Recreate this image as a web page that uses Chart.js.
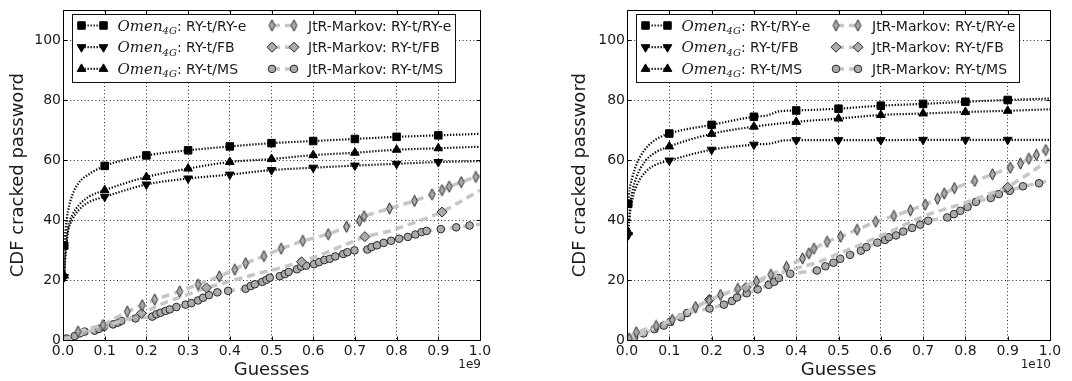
<!DOCTYPE html>
<html>
<head>
<meta charset="utf-8">
<script src="https://cdn.jsdelivr.net/npm/chart.js@4.4.0/dist/chart.umd.min.js"></script>
<style>
html, body { margin: 0; padding: 0; background: #fff; }
#wrap { position: relative; width: 1072px; height: 381px; }
#wrap canvas { position: absolute; top: 0; }
</style>
</head>
<body>
<div id="wrap">
    <canvas id="left" width="536" height="381" style="left:0"></canvas>
    <canvas id="right" width="536" height="381" style="left:536px"></canvas>
</div>
<script>
// axis ticks (x in units of the offset shown under the axis)
const X_TICKS = [0, 0.1, 0.2, 0.3, 0.4, 0.5, 0.6, 0.7, 0.8, 0.9, 1.0];
const Y_TICKS = [0, 20, 40, 60, 80, 100];
const OMEN_MARKS = [0.003, 0.1, 0.2, 0.3, 0.4, 0.5, 0.6, 0.7, 0.8, 0.9];
const LABELS = ["RY-t/RY-e", "RY-t/FB", "RY-t/MS"];

// left panel, guesses x 1e9
const L_OMEN_RYE = [[0.003, 31.5], [0.006, 36.5], [0.012, 43], [0.023, 48.6], [0.038, 52.5], [0.062, 55.3], [0.1, 58.1],
    [0.15, 60.2], [0.2, 61.6], [0.3, 63.3], [0.4, 64.6], [0.5, 65.7], [0.6, 66.4], [0.7, 67.1], [0.8, 67.8], [0.9, 68.3], [1.0, 68.8]];
const L_OMEN_FB = [[0.003, 21], [0.005, 26.5], [0.008, 31.5], [0.012, 36], [0.023, 40.3], [0.038, 43.4], [0.062, 46], [0.1, 47.8],
    [0.2, 51.9], [0.3, 53.9], [0.4, 55.2], [0.5, 56.7], [0.6, 57.5], [0.7, 58.2], [0.8, 58.8], [0.9, 59.4], [1.0, 59.7]];
const L_OMEN_MS = [[0.003, 21.5], [0.005, 28], [0.008, 33], [0.012, 37.5], [0.023, 41.8], [0.038, 45], [0.062, 47.8], [0.1, 50],
    [0.2, 54.4], [0.3, 57.2], [0.4, 59.4], [0.5, 60.4], [0.6, 61.7], [0.7, 62.5], [0.8, 63.5], [0.9, 64], [1.0, 64.5]];
const L_JTR_RYE = [[0.036, 2.8], [0.096, 5], [0.154, 9.5], [0.19, 11.6], [0.22, 13.5], [0.28, 16.2], [0.324, 18.5], [0.375, 21.2],
    [0.412, 23.5], [0.438, 25.6], [0.482, 28], [0.523, 30.5], [0.575, 33.1], [0.636, 35.3], [0.68, 37.8], [0.711, 39.8], [0.722, 41.3],
    [0.783, 43.9], [0.843, 46.4], [0.885, 48.6], [0.909, 50], [0.926, 51.2], [0.955, 52.7], [0.99, 54.4], [1.0, 54.8]];
const L_JTR_FB = [[0, 0], [0.05, 2.3], [0.1, 4.5], [0.15, 6.8], [0.188, 8.9], [0.25, 12.8], [0.3, 15.2], [0.344, 17.4], [0.4, 19.6],
    [0.47, 22.3], [0.52, 24], [0.572, 26.1], [0.62, 28.5], [0.67, 31.5], [0.724, 34.5], [0.78, 36.2], [0.85, 39.5], [0.909, 42.7],
    [0.95, 46], [1.0, 50]];
const L_FB_MARKS = [0.188, 0.344, 0.572, 0.724, 0.909];
const L_JTR_MS = [[0.008, 0.5], [0.028, 1.3], [0.04, 2.2], [0.052, 2.8], [0.076, 3.1], [0.086, 3.7], [0.098, 4.4], [0.12, 5.2],
    [0.132, 5.8], [0.14, 6.4], [0.174, 7.2], [0.214, 7.8], [0.224, 8.6], [0.234, 9.1], [0.246, 9.7], [0.256, 10.2], [0.272, 11],
    [0.294, 11.8], [0.308, 12.3], [0.324, 13.2], [0.336, 14.1], [0.35, 15], [0.37, 15.9], [0.396, 16.4], [0.438, 17.1], [0.45, 18],
    [0.46, 18.6], [0.478, 19.4], [0.488, 20.1], [0.496, 20.8], [0.52, 21.3], [0.532, 22], [0.541, 22.7], [0.561, 23.6], [0.571, 24.5],
    [0.583, 24.8], [0.602, 25.3], [0.614, 26], [0.627, 26.7], [0.64, 27.1], [0.653, 27.9], [0.672, 28.7], [0.682, 29.3], [0.699, 29.9],
    [0.73, 30.2], [0.74, 31], [0.753, 31.6], [0.769, 32.4], [0.787, 33.1], [0.806, 33.8], [0.827, 34.4], [0.845, 35.2], [0.86, 36],
    [0.872, 36.4], [0.906, 37], [0.943, 37.6], [0.975, 38.2], [1.0, 38.6]];

// right panel, guesses x 1e10
const R_OMEN_RYE = [[0.003, 45.5], [0.006, 50], [0.012, 54], [0.023, 58.8], [0.042, 63.5], [0.065, 66.6], [0.1, 68.9], [0.2, 71.8],
    [0.3, 74.5], [0.33, 74.9], [0.36, 76.3], [0.4, 76.6], [0.5, 77.2], [0.6, 78.2], [0.7, 78.8], [0.8, 79.5], [0.9, 80.1], [1.0, 80.6]];
const R_OMEN_FB = [[0.003, 35], [0.006, 41], [0.012, 46.5], [0.023, 51.5], [0.042, 55.8], [0.065, 58.3], [0.1, 59.9], [0.2, 63.5],
    [0.3, 65.2], [0.34, 65.6], [0.37, 66.6], [0.4, 66.7], [0.5, 66.7], [0.6, 66.7], [0.7, 66.8], [0.8, 66.8], [0.9, 66.8], [1.0, 66.8]];
const R_OMEN_MS = [[0.003, 36], [0.006, 42.5], [0.012, 49], [0.023, 54.5], [0.042, 59.5], [0.065, 62.4], [0.1, 64.6], [0.2, 68.8],
    [0.3, 71.2], [0.4, 72.8], [0.5, 73.9], [0.6, 75.1], [0.7, 75.6], [0.8, 76.1], [0.9, 76.5], [1.0, 77]];
const R_JTR_RYE = [[0.005, 0.5], [0.022, 2.6], [0.069, 4.7], [0.107, 6.7], [0.162, 11], [0.194, 13.2], [0.221, 15], [0.262, 17.1],
    [0.306, 19.6], [0.34, 21.8], [0.377, 24.4], [0.415, 27.2], [0.43, 28.9], [0.442, 30.5], [0.473, 32.8], [0.505, 34.5], [0.544, 36.8],
    [0.588, 39.5], [0.631, 41.4], [0.67, 43.3], [0.705, 45.2], [0.734, 47.1], [0.75, 48.9], [0.774, 50.7], [0.822, 53.1], [0.864, 55.3],
    [0.906, 57.5], [0.93, 58.9], [0.95, 60.5], [0.968, 61.8], [0.99, 63.4], [1.0, 64]];
const R_JTR_FB = [[0, 0], [0.05, 3], [0.1, 6.3], [0.15, 9.8], [0.195, 13.5], [0.24, 15.8], [0.281, 17.5], [0.33, 20.5], [0.38, 23.2],
    [0.45, 25.8], [0.5, 28.8], [0.56, 32.3], [0.62, 36], [0.68, 40], [0.72, 42.3], [0.8, 45.8], [0.9, 51], [0.95, 55.5], [1.0, 60.3]];
const R_FB_MARKS = [0.195, 0.281, 0.9];
const R_JTR_MS = [[0.01, 0], [0.017, 0.9], [0.039, 2.2], [0.065, 3.6], [0.087, 4.8], [0.102, 6], [0.128, 7.6], [0.142, 9], [0.195, 10.5],
    [0.229, 11.8], [0.248, 13], [0.26, 14.2], [0.283, 15.6], [0.309, 16.9], [0.335, 18.4], [0.348, 19.4], [0.359, 20.7], [0.386, 22.1],
    [0.449, 23.2], [0.469, 24.6], [0.488, 25.8], [0.504, 27.1], [0.527, 28.4], [0.553, 29.8], [0.566, 31], [0.592, 32.5], [0.61, 33.4],
    [0.619, 34.3], [0.636, 34.9], [0.653, 36.2], [0.674, 37.4], [0.693, 38.5], [0.712, 39.8], [0.757, 40.9], [0.773, 42], [0.788, 43.1],
    [0.805, 44.4], [0.825, 46.1], [0.86, 47.4], [0.879, 48.7], [0.899, 50.5], [0.905, 49.8], [0.936, 51.3], [0.974, 52.3], [1.0, 53.3]];

const TEXT = "#1a1a1a";
const MARK_GREY = "#ababab";
const EDGE = "#2a2a2a";
const DASH_GREY = "#c6c6c6";
const SANS = "'DejaVu Sans', sans-serif";

Chart.defaults.font.family = SANS;
Chart.defaults.color = TEXT;

const toXY = (pts) => pts.map(([x, y]) => ({ x, y }));
const inList = (list, x) => list.some(v => Math.abs(v - x) < 1e-6);

// thin diamond marker ("d" in matplotlib)
const thinDiamond = (() => {
    const c = document.createElement("canvas");
    c.width = 9; c.height = 13;
    const g = c.getContext("2d");
    g.beginPath();
    g.moveTo(4.5, 0.8); g.lineTo(7.4, 6.5); g.lineTo(4.5, 12.2); g.lineTo(1.6, 6.5);
    g.closePath();
    g.fillStyle = MARK_GREY; g.fill();
    g.lineWidth = 1; g.strokeStyle = EDGE; g.stroke();
    return c;
})();

function omenSet(label, pts, style, radius, rotation) {
    return {
        label, data: toXY(pts), isOmen: true,
        borderColor: "#000", borderWidth: 2.2, borderDash: [1.3, 1.7],
        cubicInterpolationMode: "monotone",
        pointStyle: style, pointRotation: rotation || 0, legendRadius: radius,
        pointRadius: (ctx) => (ctx.raw && inList(OMEN_MARKS, ctx.raw.x)) ? radius : 0,
        pointBackgroundColor: "#000", pointBorderColor: "#000", pointBorderWidth: 1,
        clip: 0
    };
}

function jtrSet(label, pts, style, radius, marks) {
    return {
        label, data: toXY(pts), isOmen: false,
        borderColor: DASH_GREY, borderWidth: 3.5, borderDash: [8, 5],
        tension: 0,
        pointStyle: style, pointRotation: 0, legendRadius: radius,
        pointRadius: (ctx) => {
            if (!ctx.raw) return 0;
            if (marks) return inList(marks, ctx.raw.x) ? radius : 0;
            return ctx.raw.x < 0.999 ? radius : 0;
        },
        pointBackgroundColor: MARK_GREY, pointBorderColor: EDGE, pointBorderWidth: 1,
        clip: 0
    };
}

function drawLegend(chart) {
    const { ctx, chartArea: a } = chart;
    const bx = Math.round(a.left + 9) + 0.5, by = 14.5, bw = 383, bh = 68;
    ctx.save();
    ctx.fillStyle = "#fff";
    ctx.fillRect(bx, by, bw, bh);
    ctx.strokeStyle = "#111"; ctx.lineWidth = 1; ctx.setLineDash([]);
    ctx.strokeRect(bx, by, bw, bh);

    chart.data.datasets.forEach((ds, i) => {
        const col = Math.floor(i / 3), row = i % 3;
        const x1 = bx + (col ? 199.5 : 9), x2 = x1 + 22;
        const cy = by + 11 + row * 21.7;

        ctx.save();
        ctx.strokeStyle = ds.borderColor; ctx.lineWidth = ds.borderWidth;
        ctx.setLineDash(ds.borderDash);
        ctx.beginPath(); ctx.moveTo(x1, cy); ctx.lineTo(x2, cy); ctx.stroke();
        ctx.restore();

        ctx.save();
        ctx.setLineDash([]);
        ctx.fillStyle = ds.pointBackgroundColor; ctx.strokeStyle = ds.pointBorderColor; ctx.lineWidth = 1;
        [x1, x2].forEach(px => Chart.helpers.drawPoint(ctx, {
            pointStyle: ds.pointStyle, rotation: ds.pointRotation, radius: ds.legendRadius, borderWidth: 1
        }, px, cy));
        ctx.restore();

        const tx = bx + (col ? 235.5 : 45);
        const base = cy + 5;
        ctx.fillStyle = TEXT; ctx.textBaseline = "alphabetic"; ctx.textAlign = "left";
        if (ds.isOmen) {
            ctx.font = "italic 15px 'DejaVu Serif', serif";
            ctx.fillText("Omen", tx, base);
            let w = ctx.measureText("Omen").width;
            ctx.font = "italic 10px 'DejaVu Serif', serif";
            ctx.fillText("4G", tx + w, base + 3.5);
            w += ctx.measureText("4G").width;
            ctx.font = "14px " + SANS;
            ctx.fillText(": " + ds.label, tx + w, base);
        } else {
            ctx.font = "14px " + SANS;
            ctx.fillText("JtR-Markov: " + ds.label, tx, base);
        }
    });
    ctx.restore();
}

const framePlugin = {
    id: "frame",
    afterDraw(chart, args, opts) {
        const { ctx, chartArea: a, scales: { x, y } } = chart;
        ctx.save();
        ctx.setLineDash([]);
        ctx.strokeStyle = "#000"; ctx.lineWidth = 1;
        const L = Math.round(a.left) + 0.5, R = Math.round(a.right) + 0.5;
        const T = Math.round(a.top) + 0.5, B = Math.round(a.bottom) + 0.5;
        ctx.strokeRect(L, T, R - L, B - T);
        ctx.beginPath();
        X_TICKS.forEach(v => {
            const px = Math.round(x.getPixelForValue(v)) + 0.5;
            ctx.moveTo(px, B); ctx.lineTo(px, B - 4);
            ctx.moveTo(px, T); ctx.lineTo(px, T + 4);
        });
        Y_TICKS.forEach(v => {
            const py = Math.round(y.getPixelForValue(v)) + 0.5;
            ctx.moveTo(L, py); ctx.lineTo(L + 4, py);
            ctx.moveTo(R, py); ctx.lineTo(R - 4, py);
        });
        ctx.stroke();

        ctx.fillStyle = TEXT;
        ctx.font = "12px " + SANS;
        ctx.textAlign = "right"; ctx.textBaseline = "middle";
        ctx.fillText(opts.offset, a.right + 1, 365);
        ctx.restore();

        drawLegend(chart);
    }
};

function makePanel(id, offset, padLeft, yWidth, padRight, sets) {
    return new Chart(document.getElementById(id), {
        type: "line",
        data: { datasets: sets },
        plugins: [framePlugin],
        options: {
            responsive: false,
            devicePixelRatio: 1,
            animation: false,
            events: [],
            layout: { padding: { left: padLeft, right: padRight, top: 7, bottom: 0 } },
            plugins: { legend: { display: false }, tooltip: { enabled: false }, frame: { offset } },
            scales: {
                x: {
                    type: "linear", min: 0, max: 1,
                    afterBuildTicks: (s) => { s.ticks = X_TICKS.map(v => ({ value: v })); },
                    afterFit: (s) => { s.height = 41; },
                    ticks: { autoSkip: false, maxRotation: 0, padding: 3, font: { size: 14 }, color: TEXT,
                        callback: (v) => Number(v).toFixed(1) },
                    grid: { color: "rgba(0,0,0,0.85)", lineWidth: 1, drawTicks: false },
                    border: { display: false, dash: [1, 2.6] },
                    title: { display: true, text: "Guesses", font: { size: 18 }, color: TEXT, padding: { top: 0, bottom: 0 } }
                },
                y: {
                    type: "linear", min: 0, max: 110,
                    afterBuildTicks: (s) => { s.ticks = Y_TICKS.map(v => ({ value: v })); },
                    afterFit: (s) => { s.width = yWidth; },
                    ticks: { padding: 2, font: { size: 14 }, color: TEXT, callback: (v) => String(v) },
                    grid: { color: "rgba(0,0,0,0.85)", lineWidth: 1, drawTicks: false },
                    border: { display: false, dash: [1, 2.6] },
                    title: { display: true, text: "CDF cracked password", font: { size: 18 }, color: TEXT, padding: { top: 8, bottom: 0 } }
                }
            }
        }
    });
}

makePanel("left", "1e9", 0, 63, 56, [
    omenSet(LABELS[0], L_OMEN_RYE, "rect", 5.3),
    omenSet(LABELS[1], L_OMEN_FB, "triangle", 5, 180),
    omenSet(LABELS[2], L_OMEN_MS, "triangle", 5),
    jtrSet(LABELS[0], L_JTR_RYE, thinDiamond, 5),
    jtrSet(LABELS[1], L_JTR_FB, "rectRot", 5, L_FB_MARKS),
    jtrSet(LABELS[2], L_JTR_MS, "circle", 3.8)
]);

makePanel("right", "1e10", 26, 65, 22, [
    omenSet(LABELS[0], R_OMEN_RYE, "rect", 5.3),
    omenSet(LABELS[1], R_OMEN_FB, "triangle", 5, 180),
    omenSet(LABELS[2], R_OMEN_MS, "triangle", 5),
    jtrSet(LABELS[0], R_JTR_RYE, thinDiamond, 5),
    jtrSet(LABELS[1], R_JTR_FB, "rectRot", 5, R_FB_MARKS),
    jtrSet(LABELS[2], R_JTR_MS, "circle", 3.8)
]);
</script>
</body>
</html>
